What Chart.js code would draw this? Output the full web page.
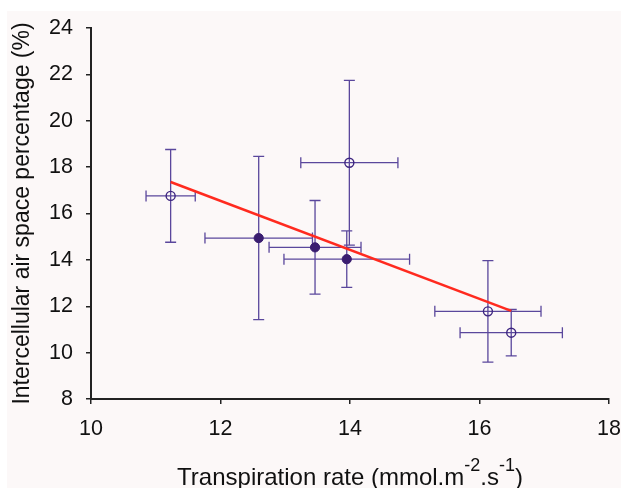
<!DOCTYPE html>
<html>
<head>
<meta charset="utf-8">
<script src="https://cdn.jsdelivr.net/npm/chart.js@4.4.1/dist/chart.umd.min.js"></script>
<style>
  html, body { margin: 0; padding: 0; background: #fff; }
  #wrap { width: 621px; height: 488px; }
</style>
</head>
<body>
<div id="wrap"><canvas id="chart" width="621" height="488"></canvas></div>
<script>
// data
const rateX   = [11.23, 12.59, 13.46, 13.95, 13.99, 16.13, 16.49];
const airY    = [16.76, 14.94, 14.54, 14.03, 18.19, 11.78, 10.86];
const rateErr = [0.38, 0.83, 0.71, 0.97, 0.75, 0.82, 0.79];
const airErr  = [2.00, 3.52, 2.02, 1.22, 3.55, 2.19, 1.00];
const filled  = [false, true, true, true, false, false, false];
const trendX  = [11.23, 16.49];
const trendY  = [17.36, 11.80];
const xTicks  = [10, 12, 14, 16, 18];
const yTicks  = [8, 10, 12, 14, 16, 18, 20, 22, 24];

const FONT = "'Liberation Sans', Arial, sans-serif";
const purple = '#3d2580';
const barColor = '#5a479c';

const pts = (want) => rateX
  .map((x, i) => ({ x, y: airY[i], f: filled[i] }))
  .filter(p => p.f === want);

// pink background like the original figure
const background = {
  id: 'background',
  beforeDraw(chart) {
    const { ctx } = chart;
    ctx.save();
    ctx.fillStyle = '#fcf8f8';
    ctx.fillRect(7, 11, chart.width - 7, chart.height - 11);
    ctx.restore();
  }
};

// x and y error bars, drawn through the scales
const errorBars = {
  id: 'errorBars',
  beforeDatasetsDraw(chart) {
    const { ctx, scales: { x, y } } = chart;
    const cap = 5.5;
    ctx.save();
    ctx.strokeStyle = barColor;
    ctx.lineWidth = 1.3;
    rateX.forEach((v, i) => {
      const px = x.getPixelForValue(v);
      const py = y.getPixelForValue(airY[i]);
      const x0 = x.getPixelForValue(v - rateErr[i]);
      const x1 = x.getPixelForValue(v + rateErr[i]);
      const y0 = y.getPixelForValue(airY[i] + airErr[i]);
      const y1 = y.getPixelForValue(airY[i] - airErr[i]);
      ctx.beginPath();
      ctx.moveTo(x0, py); ctx.lineTo(x1, py);
      ctx.moveTo(x0, py - cap); ctx.lineTo(x0, py + cap);
      ctx.moveTo(x1, py - cap); ctx.lineTo(x1, py + cap);
      ctx.moveTo(px, y0); ctx.lineTo(px, y1);
      ctx.moveTo(px - cap, y0); ctx.lineTo(px + cap, y0);
      ctx.moveTo(px - cap, y1); ctx.lineTo(px + cap, y1);
      ctx.stroke();
    });
    ctx.restore();
  }
};

// x title with real superscripts
const xTitle = {
  id: 'xTitle',
  afterDraw(chart) {
    const { ctx, chartArea } = chart;
    const parts = [
      ['Transpiration rate (mmol.m', false],
      ['-2', true],
      ['.s', false],
      ['-1', true],
      [')', false]
    ];
    const big = '24px ' + FONT, small = '18px ' + FONT;
    ctx.save();
    let total = 0;
    parts.forEach(([t, sup]) => { ctx.font = sup ? small : big; total += ctx.measureText(t).width; });
    let cx = (chartArea.left + chartArea.right) / 2 - total / 2;
    const base = 485;
    ctx.fillStyle = '#111';
    ctx.textBaseline = 'alphabetic';
    parts.forEach(([t, sup]) => {
      ctx.font = sup ? small : big;
      ctx.fillText(t, cx, sup ? base - 14 : base);
      cx += ctx.measureText(t).width;
    });
    ctx.restore();
  }
};

const axisLook = {
  grid: { display: true, drawOnChartArea: false, drawTicks: true, tickLength: 5, color: '#222', lineWidth: 1.5 },
  border: { display: true, color: '#222', width: 2 }
};

new Chart(document.getElementById('chart'), {
  type: 'scatter',
  data: {
    datasets: [
      {
        type: 'line',
        data: trendX.map((x, i) => ({ x, y: trendY[i] })),
        borderColor: '#ff2a1f',
        borderWidth: 2.5,
        pointRadius: 0,
        fill: false,
        order: 0
      },
      {
        data: pts(false),
        pointStyle: 'circle',
        pointRadius: 4.5,
        backgroundColor: 'rgba(0,0,0,0)',
        borderColor: purple,
        borderWidth: 1.4,
        order: 1
      },
      {
        data: pts(true),
        pointStyle: 'circle',
        pointRadius: 4.6,
        backgroundColor: '#3a1d70',
        borderColor: '#3a1d70',
        borderWidth: 1,
        order: 1
      }
    ]
  },
  options: {
    responsive: false,
    animation: false,
    events: [],
    layout: { padding: { left: 0, top: 28, right: 12, bottom: 0 } },
    plugins: { legend: { display: false }, tooltip: { enabled: false } },
    scales: {
      x: {
        type: 'linear',
        min: 10, max: 18,
        ...axisLook,
        afterBuildTicks: s => { s.ticks = xTicks.map(v => ({ value: v })); },
        afterFit: s => { s.height = 89; s.paddingLeft = 0; s.paddingRight = 0; },
        ticks: { color: '#111', font: { family: FONT, size: 21.5 }, padding: 12 }
      },
      y: {
        type: 'linear',
        min: 8, max: 24,
        ...axisLook,
        afterBuildTicks: s => { s.ticks = yTicks.map(v => ({ value: v })); },
        afterFit: s => { s.width = 91; },
        ticks: { color: '#111', font: { family: FONT, size: 21.5 }, padding: 13 },
        title: {
          display: true,
          text: 'Intercellular air space percentage (%)',
          color: '#111',
          font: { family: FONT, size: 23 },
          padding: { top: 9, bottom: 0 }
        }
      }
    }
  },
  plugins: [background, errorBars, xTitle]
});
</script>
</body>
</html>
